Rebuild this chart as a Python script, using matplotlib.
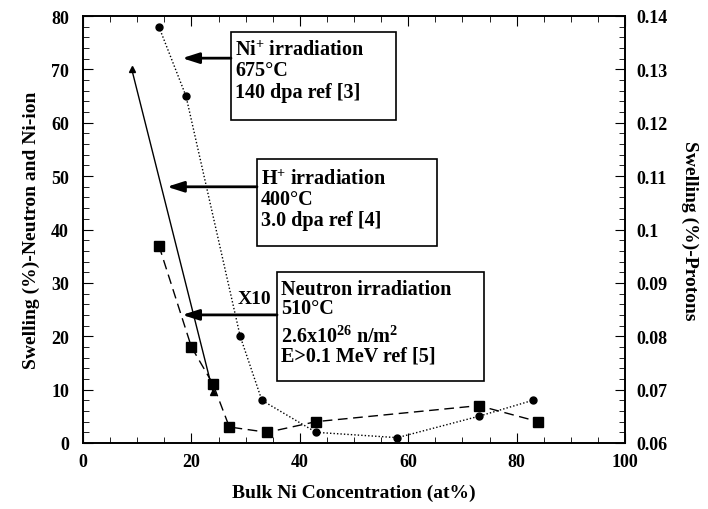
import matplotlib
matplotlib.use("Agg")
import matplotlib.pyplot as plt
from matplotlib.patches import Rectangle
from matplotlib.ticker import MultipleLocator

plt.rcParams["font.family"] = ["Liberation Serif", "DejaVu Serif"]
plt.rcParams["font.weight"] = "bold"
plt.rcParams["mathtext.fontset"] = "custom"
plt.rcParams["mathtext.rm"] = "Liberation Serif:bold"
plt.rcParams["mathtext.bf"] = "Liberation Serif:bold"
plt.rcParams["mathtext.it"] = "Liberation Serif:bold:italic"

# Ni+ ion irradiation, 675 C, 140 dpa
ni_x = [14, 19, 29, 33, 43, 58, 73, 83]
ni_y = [78, 65, 20, 8, 2, 1, 5, 8]

# Neutron irradiation, 510 C (values x10)
neut_x = [14, 20, 24, 27, 34, 43, 73, 84]
neut_y = [37, 18, 11, 3, 2, 4, 7, 4]

# Proton irradiation, 400 C, 3.0 dpa (right axis)
prot_x = [9, 24]
prot_y = [0.13, 0.0695]

x_ticks = [0, 20, 40, 60, 80, 100]
left_ticks = [0, 10, 20, 30, 40, 50, 60, 70, 80]
right_ticks = [0.06, 0.07, 0.08, 0.09, 0.1, 0.11, 0.12, 0.13, 0.14]
right_labels = ["0.06", "0.07", "0.08", "0.09", "0.1", "0.11", "0.12", "0.13", "0.14"]

fig = plt.figure(figsize=(7.08, 5.10), dpi=100)
ax = fig.add_axes([83 / 708, 1 - 444 / 510, (625 - 83) / 708, (444 - 17) / 510])
ax2 = ax.twinx()

ax.plot(ni_x, ni_y, linestyle=(0, (1, 1.5)), color="black", lw=1.0,
        marker="o", ms=5, zorder=3)
ax.plot(neut_x, neut_y, linestyle=(0, (7, 4)), color="black", lw=1.0,
        marker="s", ms=7, zorder=3)
ax2.plot(prot_x, prot_y, linestyle="-", color="black", lw=1.0,
         marker="^", ms=5, zorder=3)

ax.set_xlim(0, 100)
ax.set_ylim(0, 80)
ax2.set_ylim(0.06, 0.14)

ax.set_xticks(x_ticks)
ax.set_yticks(left_ticks)
ax2.set_yticks(right_ticks)
ax2.set_yticklabels(right_labels)
ax.xaxis.set_minor_locator(MultipleLocator(5))
ax.yaxis.set_minor_locator(MultipleLocator(2))
ax2.yaxis.set_minor_locator(MultipleLocator(0.002))

ax.tick_params(axis="x", which="both", direction="in", top=True, labelsize=13, pad=7)
ax.tick_params(axis="x", which="major", length=7)
ax.tick_params(axis="x", which="minor", length=4)
ax.tick_params(axis="y", which="both", direction="in", right=False, labelsize=13, pad=10)
ax.tick_params(axis="y", which="major", length=7)
ax.tick_params(axis="y", which="minor", length=4)
ax2.tick_params(axis="y", which="both", direction="in", labelsize=13, pad=8)
ax2.tick_params(axis="y", which="major", length=7)
ax2.tick_params(axis="y", which="minor", length=4)

for lab in ax.get_xticklabels() + ax.get_yticklabels() + ax2.get_yticklabels():
    lab.set_fontweight("bold")

for a in (ax, ax2):
    for sp in a.spines.values():
        sp.set_linewidth(1.2)

ax.set_xlabel("Bulk Ni Concentration (at%)", fontsize=14, fontweight="bold", labelpad=10)
ax.set_ylabel("Swelling (%)-Neutron and Ni-ion", fontsize=14, fontweight="bold", labelpad=8)
ax2.set_ylabel("Swelling (%)-Protons", fontsize=14, fontweight="bold",
               rotation=270, labelpad=22)

arrow = dict(arrowstyle="-|>,head_length=1.0,head_width=0.32", color="black",
             lw=2, shrinkA=0, shrinkB=0)


def label_box(x0, x1, y_bot, y_top, lines, tip_x, arrow_y):
    """Framed note with lines of text and a horizontal arrow to the curve."""
    ax.add_patch(Rectangle((x0, y_bot), x1 - x0, y_top - y_bot, fill=True,
                           fc="white", ec="black", lw=1.2, zorder=4))
    for text, y in lines:
        ax.text(x0 + 0.75, y, text, fontsize=14.5, fontweight="bold",
                ha="left", va="baseline", zorder=5)
    ax.annotate("", xy=(tip_x, arrow_y), xytext=(x0, arrow_y),
                arrowprops=arrow, zorder=5)


label_box(27.3, 57.8, 60.5, 77.0,
          [("Ni$^{+}$ irradiation", 72.7), ("675°C", 68.9), ("140 dpa ref [3]", 64.8)],
          18.3, 72.1)
label_box(32.1, 65.3, 36.9, 53.2,
          [("H$^{+}$ irradiation", 48.5), ("400°C", 44.8), ("3.0 dpa ref [4]", 40.8)],
          15.5, 48.0)
label_box(35.8, 74.0, 11.6, 32.0,
          [("Neutron irradiation", 27.9), ("510°C", 24.4),
           ("2.6x10$^{26}$ n/m$^{2}$", 18.9), ("E>0.1 MeV ref [5]", 15.4)],
          18.3, 24.0)
ax.text(28.6, 27.0, "X10", fontsize=14, fontweight="bold", ha="left", va="center")

fig.savefig("out.png", dpi=100)
